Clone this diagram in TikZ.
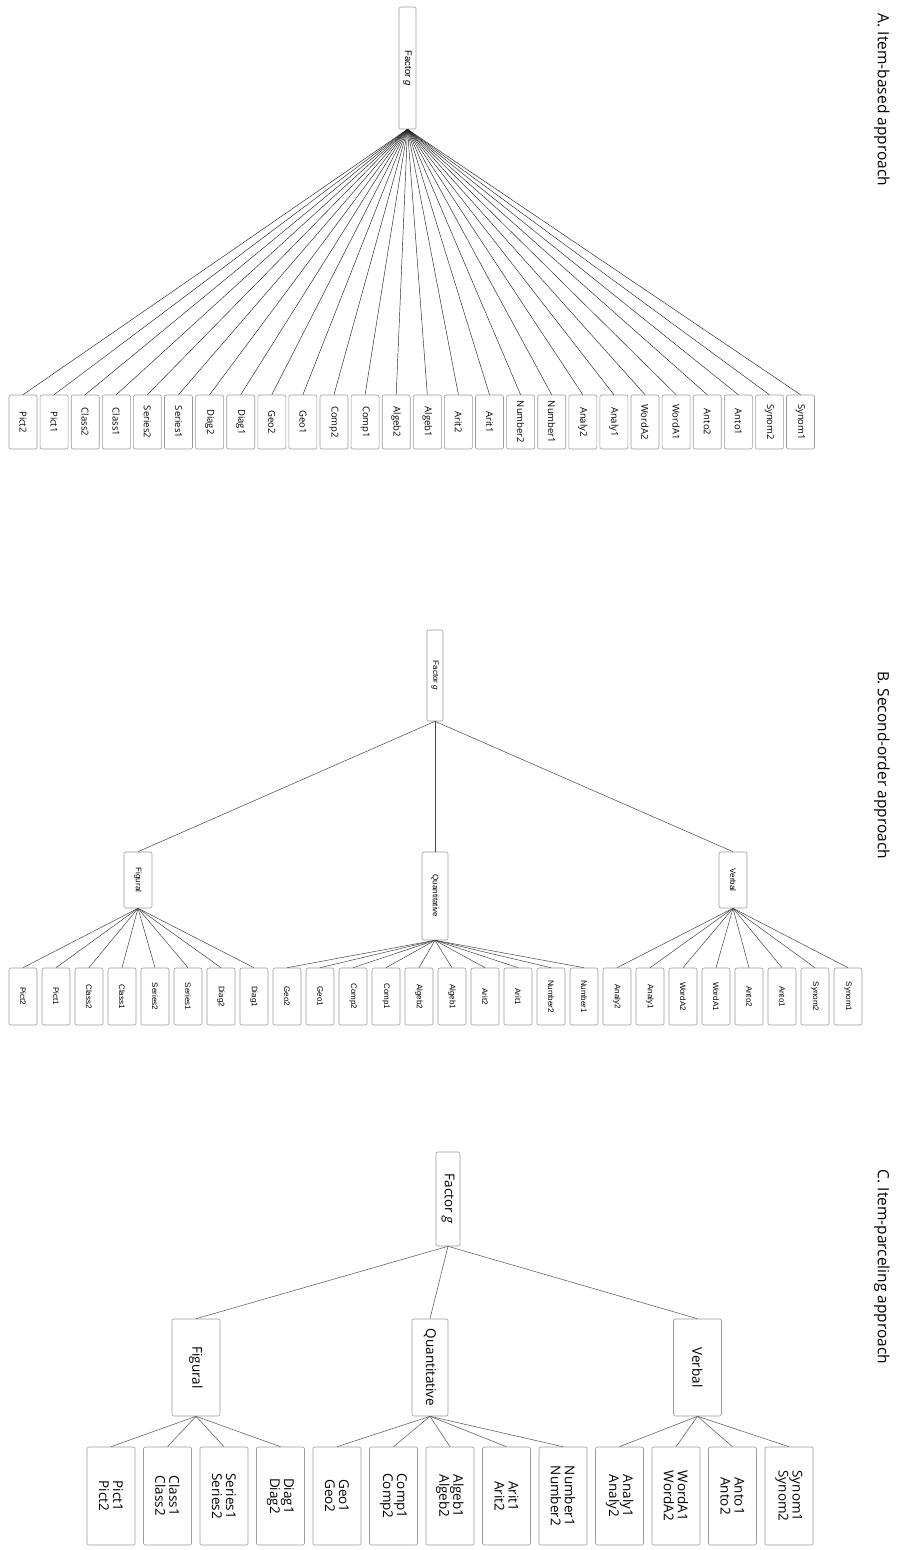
\documentclass[tikz,border=0pt]{standalone}
\usepackage{fontspec}
\setmainfont{Open Sans}
\newfontfamily\arialf{Liberation Sans}
\definecolor{boxgray}{HTML}{9A9A9A}
\definecolor{lineA}{HTML}{222222}
\definecolor{lineB}{HTML}{444444}
\definecolor{lineC}{HTML}{666666}
\begin{document}
\begin{tikzpicture}[x=1pt,y=-1pt,
  box/.style={draw=boxgray, rounded corners=2pt, rotate=-90, inner sep=0pt, line width=0.6pt, fill=white},
  rootA/.style={box, minimum width=122pt, minimum height=17pt, font=\arialf\fontsize{9.5}{11}\selectfont},
  leafA/.style={box, minimum width=54pt, minimum height=28pt, font=\fontsize{9.5}{11}\selectfont},
  rootB/.style={box, minimum width=91pt, minimum height=16pt, font=\arialf\fontsize{8}{9}\selectfont},
  midB/.style={box, minimum width=56pt, minimum height=28pt, font=\arialf\fontsize{8}{9}\selectfont},
  leafB/.style={box, minimum width=57pt, minimum height=28pt, font=\arialf\fontsize{8}{9}\selectfont},
  rootC/.style={box, minimum width=94pt, minimum height=24pt, font=\fontsize{13.5}{15}\selectfont},
  midC/.style={box, minimum width=97pt, minimum height=48pt, font=\fontsize{13.5}{15}\selectfont},
  leafC/.style={box, minimum width=98pt, minimum height=48pt, align=center, font=\fontsize{13.5}{14}\selectfont},
  title/.style={rotate=-90, font=\fontsize{15.5}{18}\selectfont, inner sep=0pt},
  linkA/.style={draw=lineA, line width=0.45pt},
  linkB/.style={draw=lineB, line width=0.5pt},
  linkC/.style={draw=lineC, line width=0.6pt}
]
\useasboundingbox (0,0) rectangle (904,1550);

% Titles
\node[title] (tA) at (882,100) {A. Item-based approach};
\node[title] (tB) at (882,765) {B. Second-order approach};
\node[title] (tC) at (882,1267) {C. Item-parceling approach};

% ---------- A ----------
\node[rootA] (fA) at (407.5,68) {Factor \textit{g}};
\foreach \n [count=\i from 0] in {Pict2,Pict1,Class2,Class1,Series2,Series1,Diag2,Diag1,Geo2,Geo1,Comp2,Comp1,Algeb2,Algeb1,Arit2,Arit1,Number2,Number1,Analy2,Analy1,WordA2,WordA1,Anto2,Anto1,Synom2,Synom1}{
  \node[leafA] (a\n) at ({23+31.1*\i},422) {\n};
  \draw[linkA] (fA.east) -- (a\n.west);
}

% ---------- B ----------
\node[rootB] (fB) at (435,675.5) {Factor \textit{g}};
\node[midB] (bF) at (138,880) {Figural};
\node[box, minimum width=88pt, minimum height=26pt, font=\arialf\fontsize{8}{9}\selectfont] (bQ) at (435,896) {Quantitative};
\node[midB] (bV) at (733,880) {Verbal};
\draw[linkB] (fB.east) -- (bF.west);
\draw[linkB] (fB.east) -- (bQ.west);
\draw[linkB] (fB.east) -- (bV.west);
\foreach \n [count=\i from 0] in {Pict2,Pict1,Class2,Class1,Series2,Series1,Diag2,Diag1}{
  \node[leafB] (b\n) at ({23+33*\i},996.5) {\n};
  \draw[linkB] (bF.east) -- (b\n.west);
}
\foreach \n [count=\i from 0] in {Geo2,Geo1,Comp2,Comp1,Algeb2,Algeb1,Arit2,Arit1,Number2,Number1}{
  \node[leafB] (b\n) at ({287+33*\i},996.5) {\n};
  \draw[linkB] (bQ.east) -- (b\n.west);
}
\foreach \n [count=\i from 0] in {Analy2,Analy1,WordA2,WordA1,Anto2,Anto1,Synom2,Synom1}{
  \node[leafB] (b\n) at ({617+33*\i},996.5) {\n};
  \draw[linkB] (bV.east) -- (b\n.west);
}

% ---------- C ----------
\node[rootC] (fC) at (448,1199) {Factor \textit{g}};
\node[midC] (cF) at (196,1367.5) {Figural};
\node[box, minimum width=97pt, minimum height=36pt, font=\fontsize{13.5}{15}\selectfont] (cQ) at (430,1367.5) {Quantitative};
\node[midC] (cV) at (697.5,1367.5) {Verbal};
\draw[linkC] (fC.east) -- (cF.west);
\draw[linkC] (fC.east) -- (cQ.west);
\draw[linkC] (fC.east) -- (cV.west);
\foreach \n/\p [count=\i from 0] in {Pict/cF,Class/cF,Series/cF,Diag/cF,Geo/cQ,Comp/cQ,Algeb/cQ,Arit/cQ,Number/cQ,Analy/cV,WordA/cV,Anto/cV,Synom/cV}{
  \node[leafC] (c\n) at ({111+56.5*\i},1496) {\n1\\\n2};
  \draw[linkC] (\p.east) -- (c\n.west);
}
\end{tikzpicture}
\end{document}
